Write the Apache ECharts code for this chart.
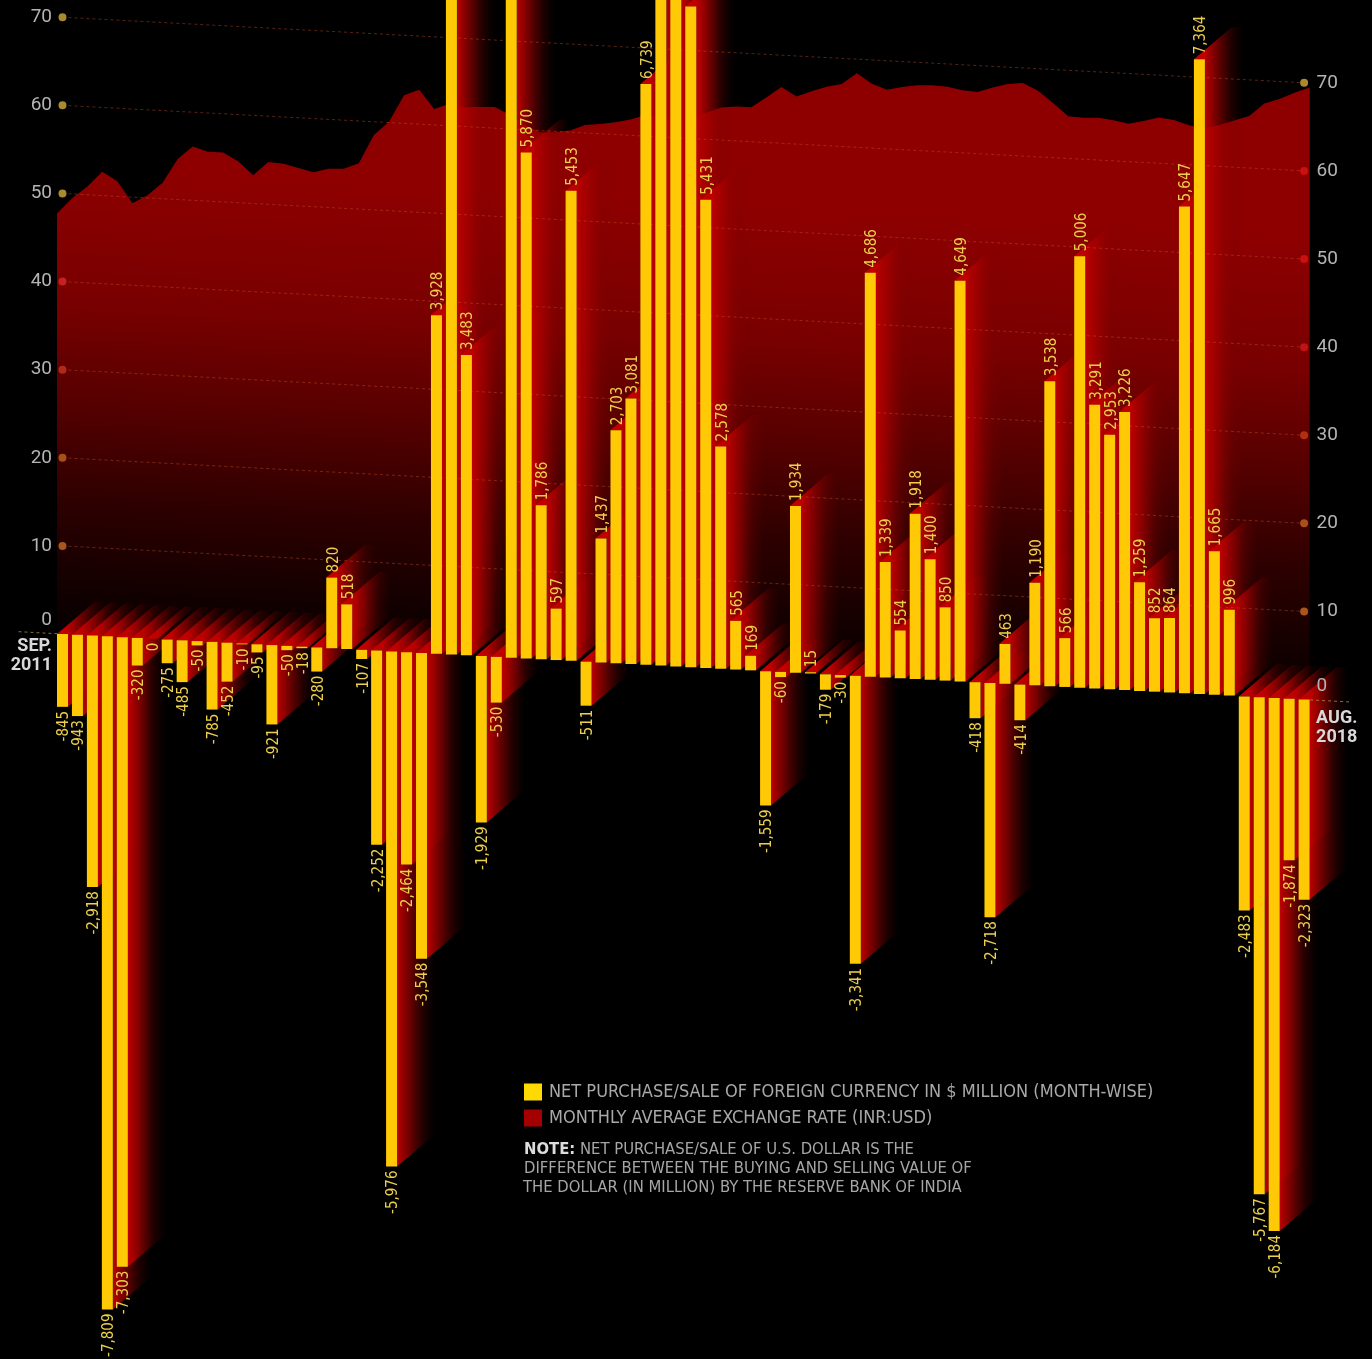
<!DOCTYPE html>
<html>
<head>
<meta charset="utf-8">
<style>html,body{margin:0;padding:0;background:#000}#chart{width:1372px;height:1359px}</style>
<script src="https://cdn.jsdelivr.net/npm/echarts@6/dist/echarts.min.js"></script>
</head>
<body>
<div id="chart"></div>
<script>
// Net purchase/sale of foreign currency by month, US$ million (Sep 2011 - Aug 2018)
const netPurchase = [
  -845,-943,-2918,-7809,-7303,-320,0,-275,-485,-50,-785,-452,-10,-95,-921,-50,-18,-280,820,518,-107,
  -2252,-5976,-2464,-3548,3928,8300,3483,-1929,-530,8200,5870,1786,597,5453,-511,1437,2703,3081,6739,
  8100,8600,7665,5431,2578,565,169,-1559,-60,1934,15,-179,-30,-3341,4686,1339,554,1918,1400,850,4649,
  -418,-2718,463,-414,1190,3538,566,5006,3291,2953,3226,1259,852,864,5647,7364,1665,996,-2483,-5767,
  -6184,-1874,-2323
];
// Monthly average exchange rate, INR per USD, same months
const exchangeRate = [
  47.7,49.5,50.9,52.7,51.7,49.3,50.3,51.8,54.6,56.1,55.6,55.6,54.7,53.2,54.8,54.7,54.3,53.9,54.4,54.5,55.2,
  58.5,60.1,63.2,63.9,61.8,62.5,62.2,62.3,62.4,61.6,60.5,59.8,59.9,60.2,60.9,61.1,61.4,61.8,62.4,
  62.2,62.0,62.4,63.0,63.7,63.9,63.9,65.1,66.4,65.4,66.1,66.7,67.1,68.4,67.3,66.7,67.1,67.4,67.5,67.4,67.1,
  67.0,67.6,68.1,68.3,67.5,66.2,64.8,64.7,64.8,64.6,64.3,64.7,65.2,65.0,64.5,64.2,64.7,65.3,65.9,67.4,68.0,68.8,69.5
];
const rateTicks = [0,10,20,30,40,50,60,70];
const leftDotColors  = [null,'#a8561c','#a8501a','#b02a18','#c42222','#ab8a2e','#ab8a2e','#ab8a2e'];
const rightDotColors = [null,'#a8561c','#a8501a','#b03012','#c01414','#cc1010','#cc1010','#ab8a2e'];
const monthNames = ['JAN.','FEB.','MAR.','APR.','MAY','JUN.','JUL.','AUG.','SEP.','OCT.','NOV.','DEC.'];
const categories = netPurchase.map((_, i) => {
  const m = (8 + i) % 12;
  return monthNames[m] + '\n' + (2011 + Math.floor((8 + i) / 12));
});
const seriesNames = [
  'NET PURCHASE/SALE OF FOREIGN CURRENCY IN $ MILLION (MONTH-WISE)',
  'MONTHLY AVERAGE EXCHANGE RATE (INR:USD)'
];
const noteHead = 'NOTE:';
const noteLines = [
  'NET PURCHASE/SALE OF U.S. DOLLAR IS THE',
  'DIFFERENCE BETWEEN THE BUYING AND SELLING VALUE OF',
  'THE DOLLAR (IN MILLION) BY THE RESERVE BANK OF INDIA'
];

// Drawing constants: the whole plot leans downward to the right.
const LEAN = 0.79;          // px of drop per month
const BAR_W = 11;
const DEPTH = 38;           // horizontal reach of the extruded side
const RISE = 0.85;          // slope of the extrusion
const NARROW = '"DejaVu Sans Condensed","Roboto",sans-serif';
const GRID_TOP = -159;
const GRID_H = 1586;

const chart = echarts.init(document.getElementById('chart'));

const indexed = arr => arr.map((v, i) => [i, v]);

function renderArea(params, api) {
  if (params.dataIndex !== 0) return null;
  const n = exchangeRate.length;
  const x0 = api.coord([0, 0])[0] - BAR_W / 2;
  const x1 = api.coord([n - 1, 0])[0] + BAR_W / 2;
  const band = api.size([1, 0])[0];
  const zero = api.coord([0, 0])[1];
  const leanAt = x => (x - api.coord([0, 0])[0]) / band * LEAN;
  const pts = exchangeRate.map((r, i) => {
    const x = x0 + (x1 - x0) * i / (n - 1);
    return [x, api.coord([0, r])[1] + leanAt(x)];
  });
  pts.push([x1, zero + leanAt(x1)], [x0, zero + leanAt(x0)]);
  const m = LEAN / band, t = zero - 170;
  const fill = new echarts.graphic.LinearGradient(
    x0, 170, x0 - m * t, 170 + t,
    [
      { offset: 0, color: '#8e0000' },
      { offset: 0.29, color: '#780000' },
      { offset: 0.5, color: '#560000' },
      { offset: 0.71, color: '#2e0000' },
      { offset: 0.93, color: '#0e0000' },
      { offset: 1, color: '#060000' }
    ], true);
  return { type: 'polygon', shape: { points: pts }, style: { fill } };
}

function renderSide(params, api) {
  const i = api.value(0), v = api.value(1);
  const cx = api.coord([i, 0])[0];
  const base = api.coord([i, 0])[1] + i * LEAN;
  const end = api.coord([i, v])[1] + i * LEAN;
  const top = Math.min(base, end), bottom = Math.max(base, end);
  const xl = cx - BAR_W / 2, xr = cx + BAR_W / 2, lift = DEPTH * RISE;
  const fill = new echarts.graphic.LinearGradient(0, 0, 1, 0, [
    { offset: 0, color: 'rgba(200,0,0,1)' },
    { offset: 0.22, color: 'rgba(190,0,0,1)' },
    { offset: 0.5, color: 'rgba(165,0,0,0.62)' },
    { offset: 0.78, color: 'rgba(130,0,0,0.22)' },
    { offset: 1, color: 'rgba(120,0,0,0)' }
  ]);
  return {
    type: 'polygon',
    shape: { points: [[xl, top], [xl + DEPTH, top - lift], [xr + DEPTH, top - lift], [xr + DEPTH, bottom - lift], [xr, bottom], [xr, top]] },
    style: { fill }
  };
}

function renderRule(params, api) {
  const v = api.value(1), k = params.dataIndex;
  const last = netPurchase.length - 1;
  const a = api.coord([0, v]), b = api.coord([last, v]);
  const yA = a[1], yB = b[1] + last * LEAN;
  const slope = (yB - yA) / (b[0] - a[0]);
  const children = [];
  const dash = { stroke: 'rgba(205,85,45,0.42)', lineWidth: 1, lineDash: [3, 3] };
  if (v === 0) {
    const stub = { stroke: 'rgba(175,150,70,0.75)', lineWidth: 1, lineDash: [3, 3] };
    children.push(
      { type: 'line', shape: { x1: a[0] - 44, y1: yA - 44 * slope, x2: a[0] - 5, y2: yA - 5 * slope }, style: stub },
      { type: 'line', shape: { x1: b[0] + 6, y1: yB + 6 * slope, x2: b[0] + 46, y2: yB + 46 * slope }, style: stub }
    );
  } else {
    children.push(
      { type: 'line', shape: { x1: a[0], y1: yA, x2: b[0], y2: yB }, style: dash },
      { type: 'circle', shape: { cx: a[0], cy: yA, r: 4 }, style: { fill: leftDotColors[k] } },
      { type: 'circle', shape: { cx: b[0], cy: yB, r: 4 }, style: { fill: rightDotColors[k] } }
    );
  }
  return { type: 'group', children };
}

function renderBar(params, api) {
  const i = api.value(0), v = api.value(1);
  const cx = api.coord([i, 0])[0];
  const base = api.coord([i, 0])[1] + i * LEAN;
  const end = api.coord([i, v])[1] + i * LEAN;
  const children = [{
    type: 'rect',
    shape: { x: cx - BAR_W / 2, y: Math.min(base, end), width: BAR_W, height: Math.abs(end - base) },
    style: { fill: '#ffc905' }
  }];
  const txt = v.toLocaleString('en-US');
  const up = v > 0;
  const labelY = up ? end - 5 : end + 4;
  if (labelY - 42 > 0 || !up) {
    children.push({
      type: 'text',
      x: cx + 2, y: labelY,
      rotation: Math.PI / 2,
      style: {
        text: txt,
        align: up ? 'left' : 'right',
        verticalAlign: 'middle',
        fill: '#eccf4c',
        font: '15px ' + NARROW
      }
    });
  }
  return { type: 'group', children };
}

function renderEnds(params, api) {
  const i = api.value(0);
  if (i !== 0 && i !== categories.length - 1) return null;
  const p = api.coord([i, 0]);
  const base = p[1] + i * LEAN;
  const first = i === 0;
  return {
    type: 'text',
    x: first ? 52 : p[0] + 12,
    y: base + (first ? 3 : 9),
    style: {
      text: categories[i],
      align: first ? 'right' : 'left',
      verticalAlign: 'top',
      fill: '#d9d9d9',
      lineHeight: 19,
      font: 'bold 18px Roboto,sans-serif'
    }
  };
}

const tickLabel = {
  color: '#b4b4b4',
  fontFamily: 'Roboto,sans-serif',
  fontSize: 19,
  rich: { z: { fontFamily: 'Roboto,sans-serif', fontSize: 19, color: '#b4b4b4', padding: [0, 0, 27, 0] } },
  formatter: v => v === 0 ? '{z|0}' : (v > 0 && v <= 70 ? String(v) : '')
};
const hiddenParts = { axisLine: { show: false }, axisTick: { show: false }, splitLine: { show: false } };

chart.setOption({
  animation: false,
  backgroundColor: '#000',
  legend: {
    orient: 'vertical', left: 524, top: 1083, padding: 0,
    itemWidth: 18, itemHeight: 17, itemGap: 8,
    selectedMode: false,
    textStyle: { color: '#a9a9a9', fontFamily: NARROW, fontSize: 18, padding: [0, 0, 0, 2] },
    data: [{ name: seriesNames[0], icon: 'rect' }, { name: seriesNames[1], icon: 'rect' }]
  },
  grid: [
    { left: 55, width: 1256.6, top: GRID_TOP, height: GRID_H, outerBoundsMode: 'none' },
    { left: 55, width: 1256.6, top: GRID_TOP + (categories.length - 1) * LEAN, height: GRID_H, outerBoundsMode: 'none' }
  ],
  xAxis: [
    { type: 'category', data: categories, gridIndex: 0, show: false },
    { type: 'category', data: categories, gridIndex: 1, show: false }
  ],
  yAxis: [
    { type: 'value', gridIndex: 0, position: 'left', min: -90, max: 90, interval: 10, z: 10,
      axisLabel: Object.assign({ margin: 3 }, tickLabel), ...hiddenParts },
    { type: 'value', gridIndex: 0, min: -9200, max: 9200, show: false },
    { type: 'value', gridIndex: 1, position: 'right', min: -90, max: 90, interval: 10, z: 10,
      axisLabel: Object.assign({ margin: 5 }, tickLabel), ...hiddenParts }
  ],
  series: [
    { name: seriesNames[1], type: 'custom', xAxisIndex: 0, yAxisIndex: 0, z: 1,
      renderItem: renderArea, data: indexed(exchangeRate), itemStyle: { color: '#a50000' },
      encode: { x: 0, y: 1 }, silent: true },
    { name: 'side', type: 'custom', xAxisIndex: 0, yAxisIndex: 1, z: 2,
      renderItem: renderSide, data: indexed(netPurchase), encode: { x: 0, y: 1 }, silent: true },
    { name: 'rules', type: 'custom', xAxisIndex: 0, yAxisIndex: 0, z: 3,
      renderItem: renderRule, data: rateTicks.map(v => [0, v]), encode: { x: 0, y: 1 }, silent: true },
    { name: seriesNames[0], type: 'custom', xAxisIndex: 0, yAxisIndex: 1, z: 4,
      renderItem: renderBar, data: indexed(netPurchase), itemStyle: { color: '#ffd900' },
      encode: { x: 0, y: 1 }, silent: true },
    { name: 'ends', type: 'custom', xAxisIndex: 0, yAxisIndex: 1, z: 5,
      renderItem: renderEnds, data: indexed(netPurchase), encode: { x: 0, y: 1 }, silent: true }
  ],
  graphic: [
    { type: 'text', left: 524, top: 1141, style: {
        text: '{b|' + noteHead + '} ' + noteLines[0],
        fill: '#a6a6a6', font: '16.5px ' + NARROW,
        rich: { b: { fill: '#dcdcdc', font: 'bold 16.5px ' + NARROW } } } },
    { type: 'text', left: 524, top: 1160, style: { text: noteLines[1], fill: '#a6a6a6', font: '16.5px ' + NARROW } },
    { type: 'text', left: 523, top: 1179, style: { text: noteLines[2], fill: '#a6a6a6', font: '16.5px ' + NARROW } }
  ]
});
</script>
</body>
</html>
